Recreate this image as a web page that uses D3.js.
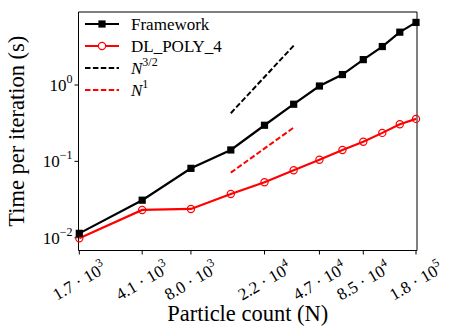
<!DOCTYPE html>
<html>
<head>
<meta charset="utf-8">
<script src="https://cdn.jsdelivr.net/npm/d3@7"></script>
<style>
  body { margin: 0; background: #fff; }
</style>
</head>
<body>
<div id="svgContainer"></div>
<script>
// particle counts (12^3 ... 56^3)
const particles = [1728, 4096, 8000, 13824, 21952, 32768, 46656, 64000, 85184, 110592, 140608, 175616];
const frameworkTimes = [0.0114, 0.031, 0.081, 0.141, 0.297, 0.56, 0.97, 1.37, 2.15, 3.19, 4.92, 6.6];
const dlpolyTimes = [0.0098, 0.0231, 0.0238, 0.0374, 0.0532, 0.0764, 0.105, 0.141, 0.181, 0.236, 0.306, 0.36];

// guide lines
const guideN = [13824, 32768];
const guideThreeHalves = [0.427, 3.28];
const guideLinear = [0.0711, 0.277];

const xTickValues = [1728, 4096, 8000, 21952, 46656, 85184, 175616];
const xTickLabels = [["1.7", "3"], ["4.1", "3"], ["8.0", "3"], ["2.2", "4"], ["4.7", "4"], ["8.5", "4"], ["1.8", "5"]];
const yTickValues = [0.01, 0.1, 1];
const yTickLabels = ["\u22122", "\u22121", "0"];

const width = 457, height = 336;
const plot = { left: 78.5, right: 417, top: 12, bottom: 250.5 };
const serif = "'Liberation Serif', 'DejaVu Serif', 'Times New Roman', Times, serif";

const svg = d3.select("#svgContainer")
  .append("svg")
  .attr("width", width)
  .attr("height", height)
  .attr("font-family", serif);

const x = d3.scaleLog().domain([1728, 175616]).range([79.3, 416]);
const y = d3.scaleLog().domain([0.01, 1]).range([237.7, 85]);

// frame
const frame = [
  [plot.left, plot.top, plot.right, plot.top],
  [plot.right, plot.top, plot.right, plot.bottom],
  [plot.left, plot.top, plot.left, plot.bottom],
  [plot.left, plot.bottom, plot.right, plot.bottom],
];
frame.forEach(f => {
  svg.append("line").attr("x1", f[0]).attr("y1", f[1]).attr("x2", f[2]).attr("y2", f[3])
    .attr("stroke", "#000").attr("stroke-width", 1);
});

// x ticks
xTickValues.forEach((v, i) => {
  const px = x(v);
  svg.append("line").attr("x1", px).attr("x2", px).attr("y1", plot.bottom).attr("y2", plot.bottom + 4)
    .attr("stroke", "#000").attr("stroke-width", 1);
  const t = svg.append("text")
    .attr("transform", `translate(${px},${281}) rotate(-30)`)
    .attr("text-anchor", "middle")
    .attr("font-family", serif)
    .attr("font-size", 17);
  t.append("tspan").attr("dy", 6).text(xTickLabels[i][0] + " \u00b7 10");
  t.append("tspan").attr("dy", -8).attr("font-size", 12).text(xTickLabels[i][1]);
});

// y ticks
yTickValues.forEach((v, i) => {
  const py = y(v);
  svg.append("line").attr("x1", plot.left - 4).attr("x2", plot.left).attr("y1", py).attr("y2", py)
    .attr("stroke", "#000").attr("stroke-width", 1);
  const t = svg.append("text")
    .attr("x", plot.left - 6)
    .attr("y", py + 6)
    .attr("text-anchor", "end")
    .attr("font-family", serif)
    .attr("font-size", 17);
  t.append("tspan").text("10");
  t.append("tspan").attr("dy", -8).attr("font-size", 12).text(yTickLabels[i]);
});

// axis titles
svg.append("text")
  .attr("x", (plot.left + plot.right) / 2)
  .attr("y", 321)
  .attr("text-anchor", "middle")
  .attr("font-family", serif)
  .attr("font-size", 22.5)
  .text("Particle count (N)");
svg.append("text")
  .attr("transform", `translate(24,${(plot.top + plot.bottom) / 2}) rotate(-90)`)
  .attr("text-anchor", "middle")
  .attr("font-family", serif)
  .attr("font-size", 22.5)
  .text("Time per iteration (s)");

const line = d3.line().x(d => x(d[0])).y(d => y(d[1]));

// guide lines
svg.append("path")
  .datum(guideN.map((n, i) => [n, guideThreeHalves[i]]))
  .attr("d", line).attr("fill", "none").attr("stroke", "#000")
  .attr("stroke-width", 2).attr("stroke-dasharray", "5.5,2.4");
svg.append("path")
  .datum(guideN.map((n, i) => [n, guideLinear[i]]))
  .attr("d", line).attr("fill", "none").attr("stroke", "#ff0000")
  .attr("stroke-width", 2).attr("stroke-dasharray", "5.5,2.4");

// DL_POLY_4
const dlData = particles.map((n, i) => [n, dlpolyTimes[i]]);
svg.append("path").datum(dlData).attr("d", line)
  .attr("fill", "none").attr("stroke", "#ff0000").attr("stroke-width", 2.2);
svg.selectAll(".dl").data(dlData).enter().append("circle")
  .attr("cx", d => x(d[0])).attr("cy", d => y(d[1])).attr("r", 3.6)
  .attr("fill", "none").attr("stroke", "#ff0000").attr("stroke-width", 1.2);

// Framework
const fwData = particles.map((n, i) => [n, frameworkTimes[i]]);
svg.append("path").datum(fwData).attr("d", line)
  .attr("fill", "none").attr("stroke", "#000").attr("stroke-width", 2.2);
svg.selectAll(".fw").data(fwData).enter().append("rect")
  .attr("x", d => x(d[0]) - 3.6).attr("y", d => y(d[1]) - 3.6)
  .attr("width", 7.2).attr("height", 7.2).attr("fill", "#000");

// legend
const legendItems = [
  { label: "Framework", color: "#000", dash: null, marker: "square" },
  { label: "DL_POLY_4", color: "#ff0000", dash: null, marker: "circle" },
  { label: "N", sup: "3/2", color: "#000", dash: "5.5,2.4", marker: null },
  { label: "N", sup: "1", color: "#ff0000", dash: "5.5,2.4", marker: null },
];
legendItems.forEach((item, i) => {
  const ly = 24 + i * 22;
  svg.append("line").attr("x1", 85).attr("x2", 119).attr("y1", ly).attr("y2", ly)
    .attr("stroke", item.color).attr("stroke-width", 2.2)
    .attr("stroke-dasharray", item.dash);
  if (item.marker === "square") {
    svg.append("rect").attr("x", 102 - 3.6).attr("y", ly - 3.6).attr("width", 7.2).attr("height", 7.2).attr("fill", "#000");
  } else if (item.marker === "circle") {
    svg.append("circle").attr("cx", 102).attr("cy", ly).attr("r", 3.6)
      .attr("fill", "#fff").attr("stroke", "#ff0000").attr("stroke-width", 1.2);
  }
  const t = svg.append("text").attr("x", 131).attr("y", ly + 6)
    .attr("font-family", serif).attr("font-size", 17);
  if (item.sup) {
    t.append("tspan").attr("font-style", "italic").text(item.label);
    t.append("tspan").attr("dy", -8).attr("font-size", 12).text(item.sup);
  } else {
    t.text(item.label);
  }
});
</script>
</body>
</html>
